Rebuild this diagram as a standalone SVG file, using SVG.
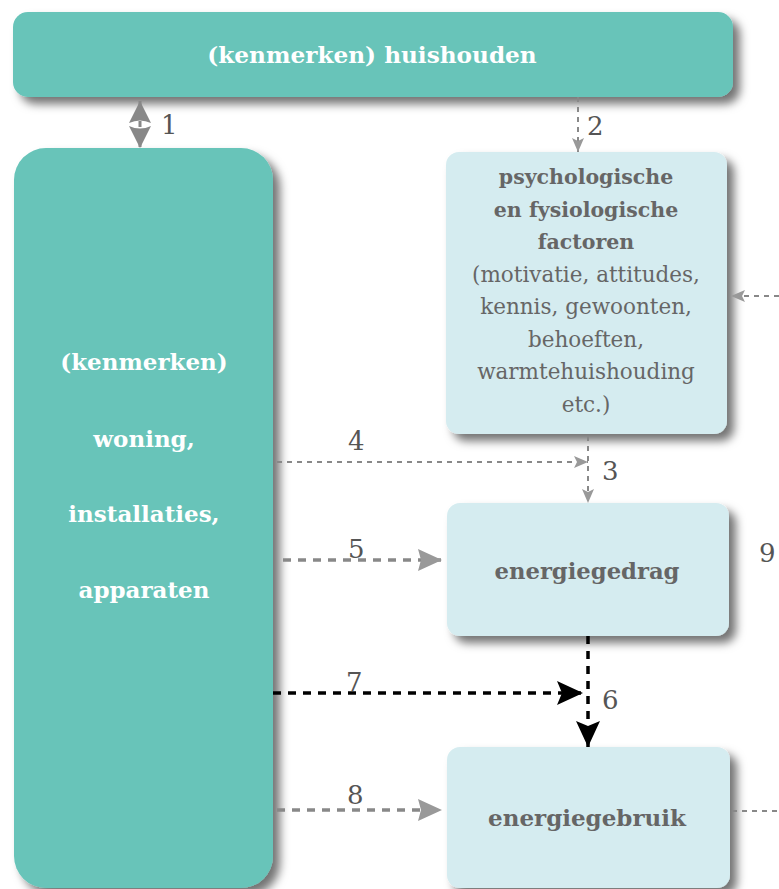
<svg xmlns="http://www.w3.org/2000/svg" width="779" height="889" viewBox="0 0 779 889">
  <defs>
    <filter id="sh" x="-20%" y="-20%" width="150%" height="150%">
      <feDropShadow dx="7" dy="7" stdDeviation="5" flood-color="#000" flood-opacity="0.55"/>
    </filter>
    <marker id="gs" markerUnits="userSpaceOnUse" viewBox="0 0 14 12" refX="14" refY="6" markerWidth="14" markerHeight="12" orient="auto">
      <path d="M0,0 L14,6 L0,12 L3,6 z" fill="#999"/>
    </marker>
    <marker id="gb" markerUnits="userSpaceOnUse" viewBox="0 0 24 22" refX="24" refY="11" markerWidth="24" markerHeight="22" orient="auto">
      <path d="M0,0 L24,11 L0,22 L3,11 z" fill="#999"/>
    </marker>
    <marker id="gd" markerUnits="userSpaceOnUse" viewBox="0 0 22 22" refX="22" refY="11" markerWidth="22" markerHeight="22" orient="auto-start-reverse">
      <path d="M0,0 L22,11 L0,22 Q5,11 0,0 z" fill="#888"/>
    </marker>
    <marker id="kb" markerUnits="userSpaceOnUse" viewBox="0 0 26 24" refX="26" refY="12" markerWidth="26" markerHeight="24" orient="auto">
      <path d="M0,0 L26,12 L0,24 L5,12 z" fill="#000"/>
    </marker>
  </defs>
  <style>
    .teal { fill: #67c4b9; filter: url(#sh); }
    .light { fill: #d5ecf0; filter: url(#sh); }
    text { font-family: "DejaVu Serif", "Liberation Serif", serif; text-anchor: middle; }
    .wt { fill: #ffffff; font-weight: bold; }
    .gt { fill: #666666; font-size: 21.5px; }
    .gtb { fill: #666666; font-weight: bold; }
    .num { fill: #555555; font-size: 26px; text-anchor: start; }
    .thin { stroke: #888; stroke-width: 2; stroke-dasharray: 5 5; fill: none; }
    .thick { stroke: #888; stroke-width: 3.5; stroke-dasharray: 8 7; fill: none; }
    .black { stroke: #000; stroke-width: 3.5; stroke-dasharray: 8 7; fill: none; }
  </style>

  <g id="huishouden">
    <rect class="teal" x="13" y="12" width="720" height="85" rx="15"/>
    <text class="wt" x="372" y="63" font-size="23.2">(kenmerken) huishouden</text>
  </g>

  <g id="woning">
    <rect class="teal" x="14" y="148" width="259" height="740" rx="32"/>
    <text class="wt" x="144" y="370" font-size="23">(kenmerken)</text>
    <text class="wt" x="144" y="447" font-size="23">woning,</text>
    <text class="wt" x="144" y="522" font-size="23">installaties,</text>
    <text class="wt" x="144" y="598" font-size="23">apparaten</text>
  </g>

  <g id="factoren">
    <rect class="light" x="446" y="152" width="281" height="282" rx="13"/>
    <text class="gtb" x="586" y="184" font-size="20.5">psychologische</text>
    <text class="gtb" x="586" y="216.5" font-size="20.5">en fysiologische</text>
    <text class="gtb" x="586" y="249" font-size="20.5">factoren</text>
    <text class="gt" x="586" y="281.5">(motivatie, attitudes,</text>
    <text class="gt" x="586" y="314">kennis, gewoonten,</text>
    <text class="gt" x="586" y="346.5">behoeften,</text>
    <text class="gt" x="586" y="379">warmtehuishouding</text>
    <text class="gt" x="586" y="411.5">etc.)</text>
  </g>

  <g id="energiegedrag">
    <rect class="light" x="447" y="503" width="282" height="133" rx="13"/>
    <text class="gtb" x="587" y="579" font-size="22.7">energiegedrag</text>
  </g>

  <g id="energiegebruik">
    <rect class="light" x="447" y="747" width="283" height="141" rx="13"/>
    <text class="gtb" x="587" y="826" font-size="23">energiegebruik</text>
  </g>

  <g id="connectors">
    <line x1="140" y1="101" x2="140" y2="148" stroke="#888" stroke-width="3" stroke-dasharray="6 4" marker-start="url(#gd)" marker-end="url(#gd)"/>
    <line class="thin" x1="578" y1="97" x2="578" y2="152" marker-end="url(#gs)"/>
    <line class="thin" x1="277" y1="462" x2="588" y2="462" marker-end="url(#gs)"/>
    <line class="thin" x1="588" y1="436" x2="588" y2="503" marker-end="url(#gs)"/>
    <line class="thick" x1="283" y1="560" x2="442" y2="560" marker-end="url(#gb)"/>
    <line class="black" x1="273" y1="693" x2="583" y2="693" marker-end="url(#kb)"/>
    <line class="black" x1="588" y1="636" x2="588" y2="747" marker-end="url(#kb)"/>
    <line class="thick" x1="277" y1="810" x2="442" y2="810" marker-end="url(#gb)"/>
    <line class="thin" x1="732" y1="811" x2="779" y2="811"/>
    <line class="thin" x1="779" y1="296" x2="731" y2="296" marker-end="url(#gs)"/>
    <text class="num" x="161" y="134">1</text>
    <text class="num" x="587" y="135">2</text>
    <text class="num" x="602" y="480">3</text>
    <text class="num" x="348" y="450">4</text>
    <text class="num" x="348" y="558">5</text>
    <text class="num" x="602" y="709">6</text>
    <text class="num" x="346" y="691">7</text>
    <text class="num" x="347" y="804">8</text>
    <text class="num" x="759" y="562">9</text>
  </g>
</svg>
